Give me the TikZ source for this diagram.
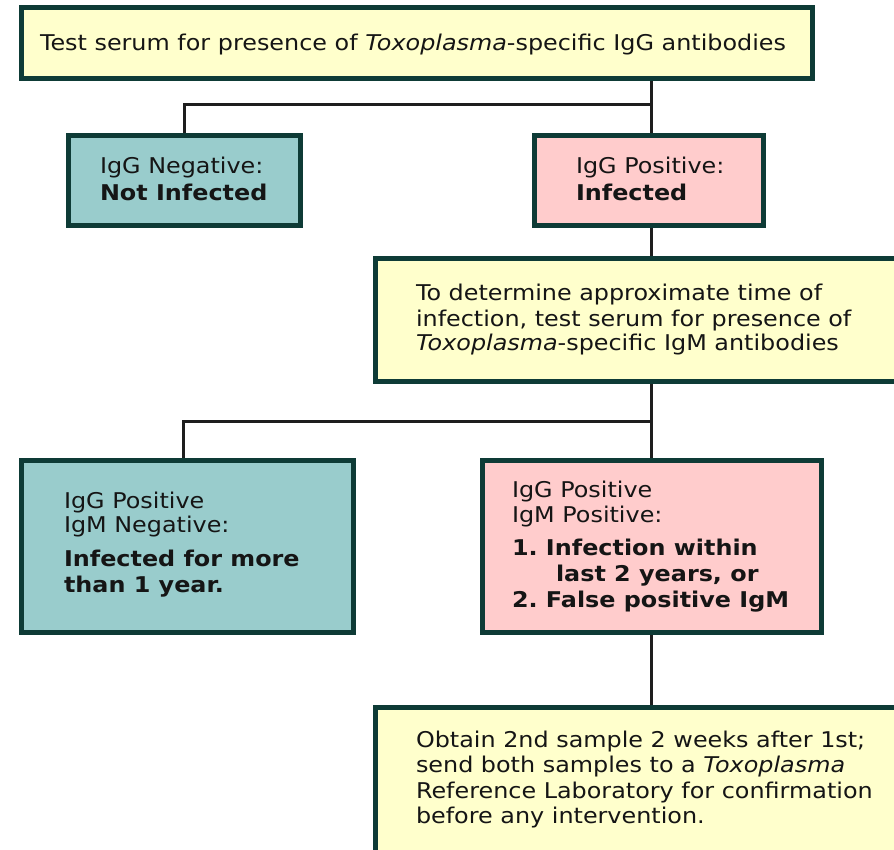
\documentclass[tikz,border=0pt]{standalone}
\usepackage{fontspec}
\setmainfont{DejaVu Sans}[FakeStretch=1.1]
\usetikzlibrary{backgrounds}
\definecolor{bordc}{HTML}{0E3B36}
\definecolor{yel}{HTML}{FFFFCC}
\definecolor{teal}{HTML}{99CCCC}
\definecolor{pink}{HTML}{FFCCCC}
\definecolor{ink}{HTML}{151515}
\definecolor{conn}{HTML}{1E1E1E}
\frenchspacing
\tikzset{
  box/.style={draw=bordc, line width=5pt, rectangle, anchor=north west, outer sep=0pt, inner sep=0pt},
  txt/.style={anchor=base west, inner sep=0pt, outer sep=0pt, text=ink, font=\fontsize{21.7}{26}\selectfont},
  conline/.style={draw=conn, line width=3pt}
}
\begin{document}
\begin{tikzpicture}[x=1pt,y=-1pt]
\useasboundingbox (0,0) rectangle (894,849);
\clip (0,0) rectangle (894,849);
% boxes
\node[box, fill=yel, minimum width=791pt, minimum height=71pt] (b1) at (21.5,7.5) {};
\node[box, fill=teal, minimum width=232pt, minimum height=90pt] (b2) at (68.5,135.5) {};
\node[box, fill=pink, minimum width=229pt, minimum height=90pt] (b3) at (534.5,135.5) {};
\node[box, fill=yel, minimum width=545pt, minimum height=123pt] (b4) at (375.5,258.5) {};
\node[box, fill=teal, minimum width=332pt, minimum height=172pt] (b5) at (21.5,460.5) {};
\node[box, fill=pink, minimum width=339pt, minimum height=172pt] (b6) at (482.5,460.5) {};
\node[box, fill=yel, minimum width=545pt, minimum height=200pt] (b7) at (375.5,707.5) {};
% junctions
\coordinate (j1) at (651,104);
\coordinate (l1) at (184,104);
\coordinate (j2) at (651,421);
\coordinate (l2) at (183,421);
\begin{pgfonlayer}{background}
\draw[conline] (b1.south -| j1) -- (b3.north -| j1);
\draw[conline] (j1) -- (l1) -- (l1 |- b2.north);
\draw[conline] (b3.south -| j1) -- (b4.north -| j1);
\draw[conline] (b4.south -| j2) -- (b6.north -| j2);
\draw[conline] (j2) -- (l2) -- (l2 |- b5.north);
\draw[conline] (b6.south -| j2) -- (b7.north -| j2);
\end{pgfonlayer}
% texts
\node[txt] (t1) at (40,50) {Test serum for presence of \textit{Toxoplasma}-specific IgG antibodies};
\node[txt] (t2a) at (100,173) {IgG Negative:};
\node[txt] (t2b) at (100,200) {\bfseries Not Infected};
\node[txt] (t3a) at (576,173) {IgG Positive:};
\node[txt] (t3b) at (576,200) {\bfseries Infected};
\node[txt] (t4a) at (416,300) {To determine approximate time of};
\node[txt] (t4b) at (416,326) {infection, test serum for presence of};
\node[txt] (t4c) at (416,350) {\textit{Toxoplasma}-specific IgM antibodies};
\node[txt] (t5a) at (64,508) {IgG Positive};
\node[txt] (t5b) at (64,532) {IgM Negative:};
\node[txt] (t5c) at (64,566) {\bfseries Infected for more};
\node[txt] (t5d) at (64,592) {\bfseries than 1 year.};
\node[txt] (t6a) at (512,497) {IgG Positive};
\node[txt] (t6b) at (512,522) {IgM Positive:};
\node[txt] (t6c) at (512,555) {\bfseries 1. Infection within};
\node[txt] (t6d) at (556,581) {\bfseries last 2 years, or};
\node[txt] (t6e) at (512,607) {\bfseries 2. False positive IgM};
\node[txt] (t7a) at (416,747) {Obtain 2nd sample 2 weeks after 1st;};
\node[txt] (t7b) at (416,772) {send both samples to a \textit{Toxoplasma}};
\node[txt] (t7c) at (416,798) {Reference Laboratory for confirmation};
\node[txt] (t7d) at (416,823) {before any intervention.};
\end{tikzpicture}
\end{document}
